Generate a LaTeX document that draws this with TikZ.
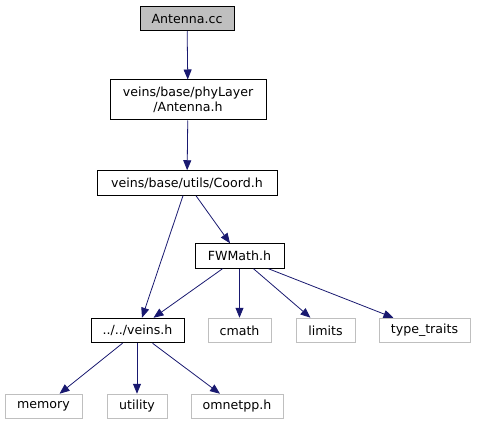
\documentclass[tikz,border=0pt]{standalone}
\usepackage{fontspec}
\setmainfont{DejaVu Sans}
\usetikzlibrary{arrows.meta}
\definecolor{edgeblue}{HTML}{191970}
\definecolor{extgray}{HTML}{BFBFBF}
\tikzset{
  box/.style={draw, line width=1pt, inner sep=0pt, minimum height=24.5pt,
    align=center, font=\fontsize{12.6}{15}\selectfont},
  hdr/.style={box, draw=black},
  root/.style={box, draw=black, fill=extgray},
  ext/.style={box, draw=extgray},
  dep/.style={draw=edgeblue, line width=0.8pt, -{Triangle[length=10pt,width=8pt]}}
}
\begin{document}
\begin{tikzpicture}[x=1pt,y=-1pt]
  \useasboundingbox (0,0) rectangle (477,425);
  % files
  \node[root, minimum width=94pt] (cc) at (187,18.5) {Antenna.cc};
  \node[hdr, minimum width=156pt, minimum height=40pt] (phy) at (188,100) {veins/base/phyLayer\\/Antenna.h};
  \node[hdr, minimum width=180pt] (coord) at (187,183) {veins/base/utils/Coord.h};
  \node[hdr, minimum width=89pt] (fwmath) at (239.5,256) {FWMath.h};
  \node[hdr, minimum width=93pt] (veins) at (137.5,330.5) {../../veins.h};
  \node[ext, minimum width=63pt] (cmath) at (239.5,330.5) {cmath};
  \node[ext, minimum width=59pt] (limits) at (325.5,330.5) {limits};
  \node[ext, minimum width=91pt] (traits) at (424.5,330.5) {type\_traits};
  \node[ext, minimum width=77pt] (memory) at (43.5,406.5) {memory};
  \node[ext, minimum width=60pt] (utility) at (137,406.5) {utility};
  \node[ext, minimum width=92pt] (omnetpp) at (237,406.5) {omnetpp.h};
  % includes
  \draw[dep] (cc) -- (phy);
  \draw[dep] (phy) -- (coord);
  \draw[dep] ([xshift=-4pt]coord.south) -- ([xshift=4.5pt]veins.north);
  \draw[dep] ([xshift=9pt]coord.south) -- ([xshift=-9.5pt]fwmath.north);
  \draw[dep] ([xshift=-17pt]fwmath.south) -- ([xshift=16pt]veins.north);
  \draw[dep] (fwmath) -- (cmath);
  \draw[dep] ([xshift=14pt]fwmath.south) -- ([xshift=-15pt]limits.north);
  \draw[dep] ([xshift=29pt]fwmath.south) -- ([xshift=-31pt]traits.north);
  \draw[dep] ([xshift=-15pt]veins.south) -- ([xshift=16pt]memory.north);
  \draw[dep] (veins.south -| utility.north) -- (utility);
  \draw[dep] ([xshift=15pt]veins.south) -- ([xshift=-17pt]omnetpp.north);
\end{tikzpicture}
\end{document}
